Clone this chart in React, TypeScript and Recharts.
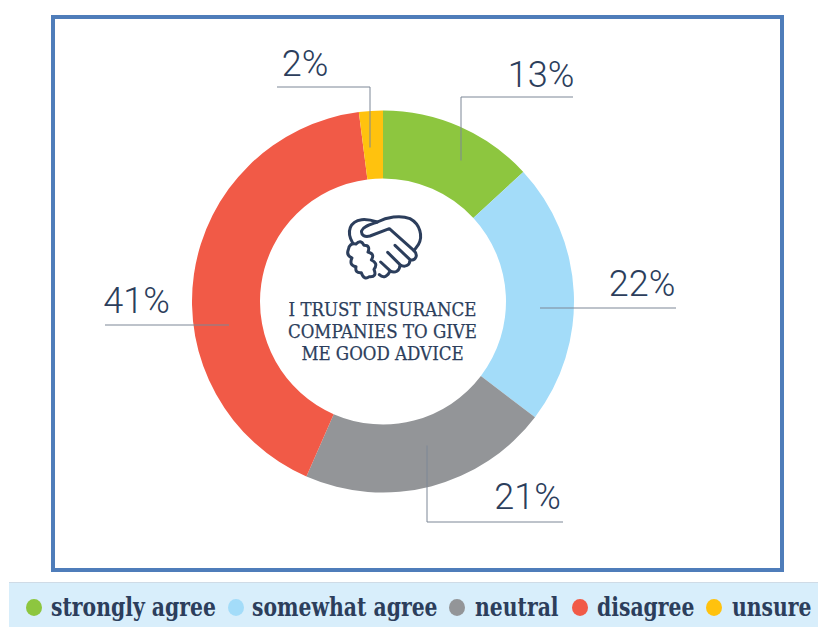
import React from 'react';
import { PieChart, Pie, Cell, Legend } from 'recharts';

const categories = ['strongly agree', 'somewhat agree', 'neutral', 'disagree', 'unsure'];
const shares = [13, 22, 21, 41, 2];
const colors = ['#8dc63f', '#a3dcf9', '#939598', '#f15a47', '#ffc20e'];
const tableData = categories.map((name, i) => ({ name, value: shares[i] }));

const INK = '#2c3e5c';
const SLAB = '"DejaVu Serif Condensed", "DejaVu Serif", serif';

// leader polylines relative to the pie centre, label anchor last
const leaders = [
  { line: [[190, -204.5], [78, -204.5], [78, -141]], text: [158, -214.5] },
  { line: [[293, 6.5], [157, 6.5]], text: [259, -5.5] },
  { line: [[180, 220.5], [44, 220.5], [44, 144]], text: [144.5, 207] },
  { line: [[-278, 23.5], [-154, 23.5]], text: [-246.5, 11] },
  { line: [[-106, -214.5], [-13, -214.5], [-13, -154]], text: [-78, -225.5] },
];

function renderLabel(props: any) {
  const { cx, cy, index } = props;
  const l = leaders[index];
  return (
    <g key={index}>
      <polyline
        points={l.line.map(([x, y]) => `${cx + x},${cy + y}`).join(' ')}
        fill="none"
        stroke="#7d8796"
        strokeWidth={1}
      />
      <text
        x={cx + l.text[0]}
        y={cy + l.text[1]}
        textAnchor="middle"
        fontFamily="Roboto, sans-serif"
        fontWeight={300}
        fontSize={36}
        fill={INK}
      >
        {shares[index]}%
      </text>
    </g>
  );
}

function LegendBand({ payload }: any) {
  const dotX = [25, 227, 448, 571, 705];
  const textX = [42, 243, 466, 588, 723];
  return (
    <div style={{ position: 'relative', width: 809, height: 45, background: '#d8eefb', borderTop: '1px solid #cfdbe6', boxSizing: 'border-box' }}>
      {(payload || []).map((p: any, i: number) => (
        <React.Fragment key={p.value}>
          <span
            style={{
              position: 'absolute',
              left: dotX[i] - 8,
              top: 16,
              width: 16,
              height: 17,
              borderRadius: '50%',
              background: p.color,
            }}
          />
          <span
            style={{
              position: 'absolute',
              left: textX[i],
              top: 9,
              fontFamily: SLAB,
              fontWeight: 700,
              fontSize: 26,
              lineHeight: '30px',
              color: INK,
              whiteSpace: 'nowrap',
              transform: 'scaleX(0.87)',
              transformOrigin: 'left center',
            }}
          >
            {p.value}
          </span>
        </React.Fragment>
      ))}
    </div>
  );
}

export default function App() {
  return (
    <div style={{ position: 'absolute', left: 0, top: 0, width: 818, height: 627, background: '#fff' }}>
      <div
        style={{
          position: 'absolute',
          left: 51,
          top: 15,
          width: 733,
          height: 557,
          border: '4px solid #4f7dba',
          boxSizing: 'border-box',
        }}
      />
      <PieChart width={818} height={627} margin={{ top: 0, right: 0, bottom: 0, left: 0 }}>
        <Pie
          data={tableData}
          dataKey="value"
          nameKey="name"
          cx={383}
          cy={301.5}
          innerRadius={123}
          outerRadius={191}
          startAngle={90}
          endAngle={-270}
          stroke="none"
          label={renderLabel}
          labelLine={false}
          isAnimationActive={false}
        >
          {tableData.map((d, i) => (
            <Cell key={d.name} fill={colors[i]} />
          ))}
        </Pie>
        {/* handshake icon */}
        <g transform="translate(340,208) scale(0.3333)" fill="none" stroke={INK} strokeWidth={9} strokeLinecap="round" strokeLinejoin="round">
          <path d="M38 105 C18 70 30 40 65 35 C85 33 100 38 112 42 C140 28 180 20 210 32 C240 48 250 85 235 110 L222 128" />
          <path d="M112 42 C90 50 70 55 65 68 C62 82 75 88 90 84 L148 62 L222 128 C235 140 228 160 210 155 L165 112 M210 155 C210 172 195 180 180 170 L143 133 M180 170 C180 188 165 198 150 188 L122 162 M150 188 C145 205 130 212 118 200" />
          <path d="M25 125 Q28 104 48 108 Q62 92 72 112 Q92 112 84 132 Q106 138 94 156 Q116 166 102 184 Q112 208 88 206 Q72 218 64 194 Q44 196 48 176 Q26 172 36 150 Q18 142 25 125 Z" />
        </g>
        <text textAnchor="middle" fontFamily={SLAB} fontSize={18.5} fill={INK} stroke={INK} strokeWidth={0.25}>
          <tspan x={382.5} y={316}>I TRUST INSURANCE</tspan>
          <tspan x={382.5} y={338}>COMPANIES TO GIVE</tspan>
          <tspan x={382.5} y={360}>ME GOOD ADVICE</tspan>
        </text>
        <Legend
          content={<LegendBand />}
          itemSorter={null}
          wrapperStyle={{ position: 'absolute', left: 9, top: 582, width: 809, height: 45, bottom: 'auto' }}
        />
      </PieChart>
    </div>
  );
}
